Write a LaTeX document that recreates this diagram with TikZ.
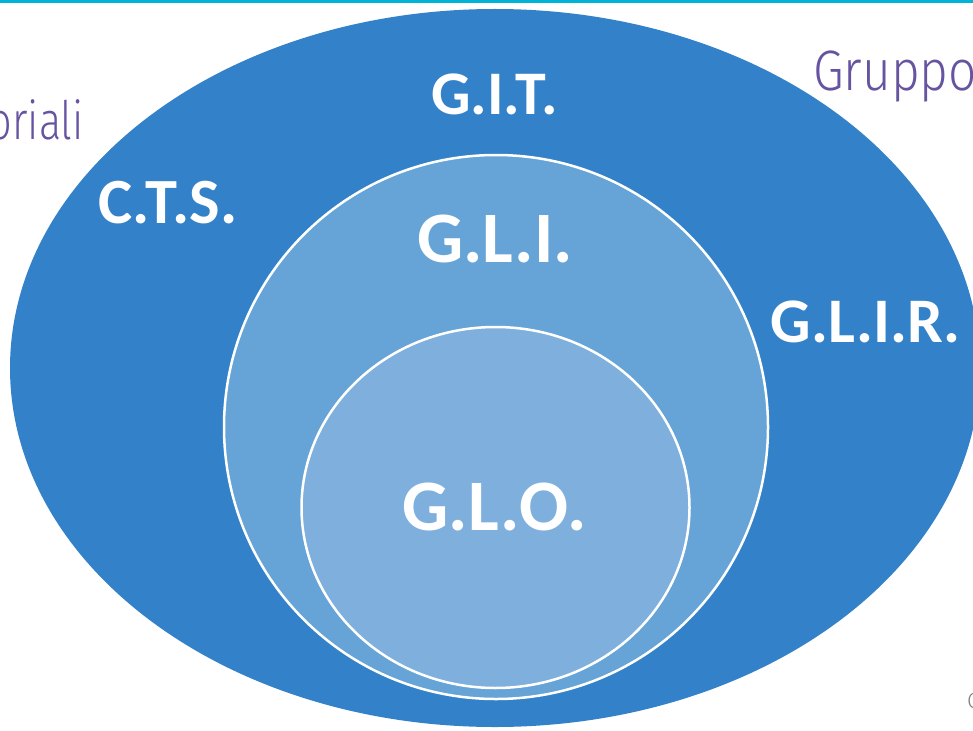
\documentclass[tikz,border=0pt]{standalone}
\usepackage{fontspec}
\setmainfont{Carlito}
\newfontfamily\thinfont{Fira Sans Light}
\definecolor{topcyan}{RGB}{0,180,216}
\definecolor{outerblue}{RGB}{51,130,201}
\definecolor{midblue}{RGB}{102,163,214}
\definecolor{innerblue}{RGB}{127,176,221}
\definecolor{titlepurple}{RGB}{102,84,160}
\tikzset{
  ring/.style={draw=white, line width=2.5pt},
  setlabel/.style={text=white, font=\bfseries, anchor=base, inner sep=0pt},
  sidetitle/.style={text=titlepurple, inner sep=0pt},
}
\begin{document}
\begin{tikzpicture}[x=1pt, y=-1pt]
\useasboundingbox (0,0) rectangle (973,730);
% rule along the top edge
\fill[topcyan] (0,0) rectangle (973,3.5);
% nested sets
\fill[outerblue] (495,368) ellipse [x radius=485, y radius=359];
\draw[ring, fill=midblue] (496,427) circle [radius=272];
\draw[ring, fill=innerblue] (495.5,507.5) ellipse [x radius=194, y radius=180.5];
% set names
\node[setlabel, font=\bfseries\fontsize{62}{62}\selectfont] (git) at (494.5,115) {G.I.T.};
\node[setlabel, font=\bfseries\fontsize{64.5}{64}\selectfont] (cts) at (168,223) {C.T.S.};
\node[setlabel, font=\bfseries\fontsize{72.5}{72}\selectfont] (gli) at (495,262) {G.L.I.};
\node[setlabel, font=\bfseries\fontsize{63.5}{63}\selectfont] (glir) at (865.5,342) {G.L.I.R.};
\node[setlabel, font=\bfseries\fontsize{72.5}{72}\selectfont] (glo) at (494.5,530) {G.L.O.};
% titles running off the page
\node[sidetitle, anchor=base west, font=\thinfont\fontsize{57}{57}\selectfont] (gruppo) at (813,91) {\scalebox{0.87}[1]{Gruppo}};
\node[sidetitle, anchor=base east, font=\thinfont\fontsize{53}{53}\selectfont] (oriali) at (84,140) {\scalebox{0.78}[1]{oriali}};
\node[anchor=base west, inner sep=0pt, text=gray, font=\thinfont\fontsize{22}{22}\selectfont] (mark) at (967,708) {C};
\end{tikzpicture}
\end{document}
